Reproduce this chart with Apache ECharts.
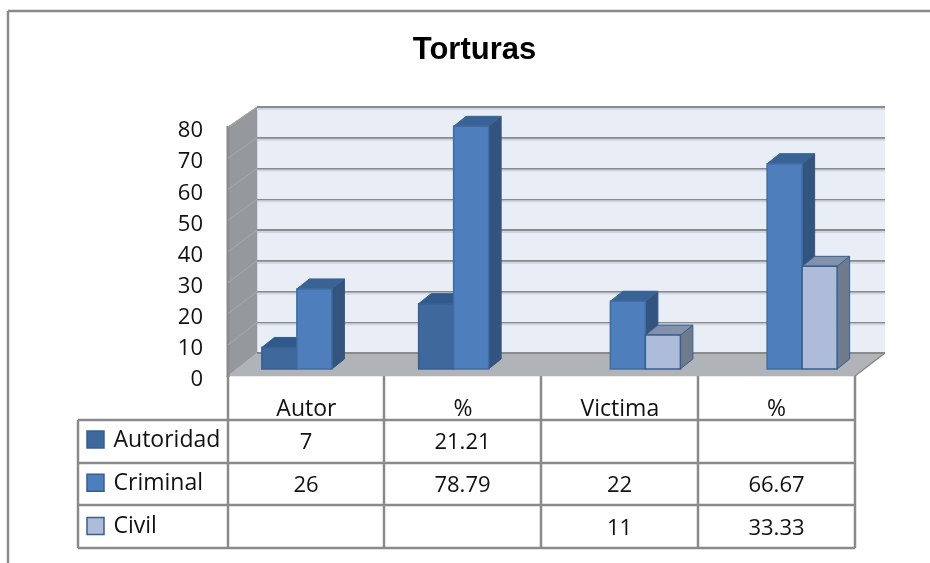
<!DOCTYPE html>
<html>
<head>
<meta charset="utf-8">
<script src="https://cdn.jsdelivr.net/npm/echarts@6/dist/echarts.min.js"></script>
<style>html,body{margin:0;padding:0;background:#fff}#c{width:930px;height:563px}</style>
</head>
<body>
<div id="c"></div>
<script>
var titleText = 'Torturas';
var categories = ['Autor', '%', 'Victima', '%'];
var seriesNames = ['Autoridad', 'Criminal', 'Civil'];
var autoridad = [7, 21.21, null, null];
var criminal = [26, 78.79, 22, 66.67];
var civil = [null, null, 11, 33.33];
var axisMax = 80;
var axisStep = 10;
var wallTicks = [0, 10, 20, 30, 40, 50, 60, 70, 80];

var font = '"Open Sans", sans-serif';
var gridLine = '#8a8a8a';
var palette = [
  {front: '#3f689c', top: '#315a8c', side: '#2f5382', line: '#38608f'},
  {front: '#4e7fbc', top: '#3a6395', side: '#33547f', line: '#3f6ca3'},
  {front: '#aebcd9', top: '#8391ab', side: '#6f7b8d', line: '#365f91'}
];
var allSeries = [autoridad, criminal, civil];
var colX = [78, 228, 384, 541, 698, 855];
var rowY = [376, 420, 463, 505, 548];

function poly(pts, fill, stroke, w) {
  return {type: 'polygon', shape: {points: pts},
    style: {fill: fill, stroke: stroke || fill, lineWidth: w || 0.5}};
}
function seg(x1, y1, x2, y2, color, w) {
  return {type: 'line', shape: {x1: x1, y1: y1, x2: x2, y2: y2},
    style: {stroke: color, lineWidth: w}, silent: true};
}

function renderWall(params, api) {
  var v = api.value(0);
  var back = api.coord([0, v]);
  var backEnd = api.coord([1, v]);
  var dy = 20 + 3 * (1 - v / axisMax);
  var children = [];
  if (v === 0) {
    var top = api.coord([0, axisMax]);
    children.push(poly([[top[0], top[1]], [back[0], back[1]], [back[0] - 29, back[1] + 23], [top[0] - 29, top[1] + 20]], '#95999d'));
    children.push(poly([[back[0], back[1]], [backEnd[0], back[1]], [backEnd[0] - 30, back[1] + 23], [back[0] - 29, back[1] + 23]], '#b0b3b7'));
    children.push(seg(backEnd[0], back[1], backEnd[0] - 30, back[1] + 23, gridLine, 1.5));
    children.push(seg(back[0], back[1], backEnd[0], back[1], gridLine, 2));
    children.push(seg(top[0] - 29, top[1] + 19, top[0] - 29, back[1] + 24, gridLine, 3));
    children.push(seg(top[0], top[1], top[0] - 29, top[1] + 20, '#9a9da1', 1));
  } else {
    children.push(seg(back[0], back[1] + 2, backEnd[0], back[1] + 2, '#cfd5e2', 2));
    children.push(seg(back[0], back[1], back[0] - 29, back[1] + dy, '#a7aaae', 1));
  }
  return {type: 'group', children: children};
}

function barRenderer(idx) {
  return function (params, api) {
    var val = api.value(1);
    if (val == null || isNaN(val)) return null;
    var cat = api.value(0);
    var base = api.coord([cat, 0]);
    var top = api.coord([cat, val]);
    var band = api.size([1, 0])[0];
    var w = band * 0.2233;
    var x0 = base[0] + (idx - 1.5) * w;
    var x1 = x0 + w;
    var dx = 12.5, dy = -10;
    var c = palette[idx];
    return {type: 'group', children: [
      poly([[x1, top[1]], [x1 + dx, top[1] + dy], [x1 + dx, base[1] + dy], [x1, base[1]]], c.side, idx === 2 ? c.line : c.side, 1),
      poly([[x0, top[1]], [x0 + dx, top[1] + dy], [x1 + dx, top[1] + dy], [x1, top[1]]], c.top, idx === 2 ? c.line : c.top, 1),
      {type: 'rect', shape: {x: x0, y: top[1], width: w, height: base[1] - top[1]},
        style: {fill: c.front, stroke: c.line, lineWidth: 1.5}}
    ]};
  };
}

var tableGraphics = [];
function addLine(x1, y1, x2, y2, w) {
  tableGraphics.push({type: 'line', shape: {x1: x1, y1: y1, x2: x2, y2: y2}, style: {stroke: gridLine, lineWidth: w}, z: 5});
}
// outer frame
addLine(8, 11, 8, 563, 2.5);
addLine(8, 11, 930, 11, 2.5);
// table rules
colX.forEach(function (x, i) { addLine(x, i === 0 ? rowY[1] : rowY[0], x, rowY[4], 2.5); });
rowY.slice(1).forEach(function (y) { addLine(colX[0], y, colX[5], y, 2.5); });
// table rows
seriesNames.forEach(function (name, r) {
  var cy = (rowY[r + 1] + rowY[r + 2]) / 2 - 2;
  tableGraphics.push({type: 'rect', shape: {x: 87, y: cy - 8.5 + r * 0.7, width: 17, height: 17},
    style: {fill: palette[r].front, stroke: '#365f91', lineWidth: 1.5}, z: 5});
  tableGraphics.push({type: 'text', x: 113.5, y: cy + 1 + r * 0.5, z: 5,
    style: {text: name, font: '23px ' + font, fill: '#111', textAlign: 'left', textVerticalAlign: 'middle'}});
  allSeries[r].forEach(function (v, c) {
    if (v == null) return;
    tableGraphics.push({type: 'text', x: (colX[c + 1] + colX[c + 2]) / 2, y: cy + 3.5 + r * 0.5, z: 5,
      style: {text: String(v), font: '22px ' + font, fill: '#111', textAlign: 'center', textVerticalAlign: 'middle'}});
  });
});

var option = {
  backgroundColor: '#fff',
  animation: false,
  title: {text: titleText, left: 469.5, top: 30, textAlign: 'center',
    textStyle: {fontFamily: '"Liberation Sans", sans-serif', fontWeight: 'bold', fontSize: 31, color: '#000'}},
  grid: [
    // back wall
    {left: 257, top: 107, width: 628, height: 246, show: true, backgroundColor: '#e9edf6', borderWidth: 0},
    // front plane: tick labels and category labels
    {left: 228, top: 131, width: 627, height: 249},
    // bar plane
    {left: 236, top: 122.6, width: 627, height: 246.4}
  ],
  xAxis: [
    {gridIndex: 0, type: 'value', min: 0, max: 1, show: false},
    {gridIndex: 1, type: 'category', data: categories,
      axisLine: {show: false}, axisTick: {show: false}, splitLine: {show: false},
      axisLabel: {margin: 18, fontFamily: font, fontSize: 23, color: '#111'}},
    {gridIndex: 2, type: 'category', data: categories, show: false}
  ],
  yAxis: [
    {gridIndex: 0, type: 'value', min: 0, max: axisMax, interval: axisStep,
      axisLine: {show: false}, axisTick: {show: false}, axisLabel: {show: false},
      splitLine: {show: true, lineStyle: {color: gridLine, width: 2}}},
    {gridIndex: 1, type: 'value', min: 0, max: axisMax, interval: axisStep,
      axisLine: {show: false}, axisTick: {show: false}, splitLine: {show: false},
      axisLabel: {margin: 25, fontFamily: font, fontSize: 22, color: '#111'}},
    {gridIndex: 2, type: 'value', min: 0, max: axisMax, interval: axisStep, show: false}
  ],
  series: [
    {type: 'custom', xAxisIndex: 0, yAxisIndex: 0, z: 1, clip: false, silent: true,
      data: wallTicks.map(function (t) { return [t]; }), encode: {x: [], y: 0}, renderItem: renderWall}
  ].concat(allSeries.map(function (vals, i) {
    return {type: 'custom', name: seriesNames[i], xAxisIndex: 2, yAxisIndex: 2, z: 2 + i, clip: false,
      data: vals.map(function (v, c) { return [c, v]; }), encode: {x: 0, y: 1}, renderItem: barRenderer(i)};
  })),
  graphic: tableGraphics
};
echarts.init(document.getElementById('c'), null, {renderer: 'canvas'}).setOption(option);
</script>
</body>
</html>
